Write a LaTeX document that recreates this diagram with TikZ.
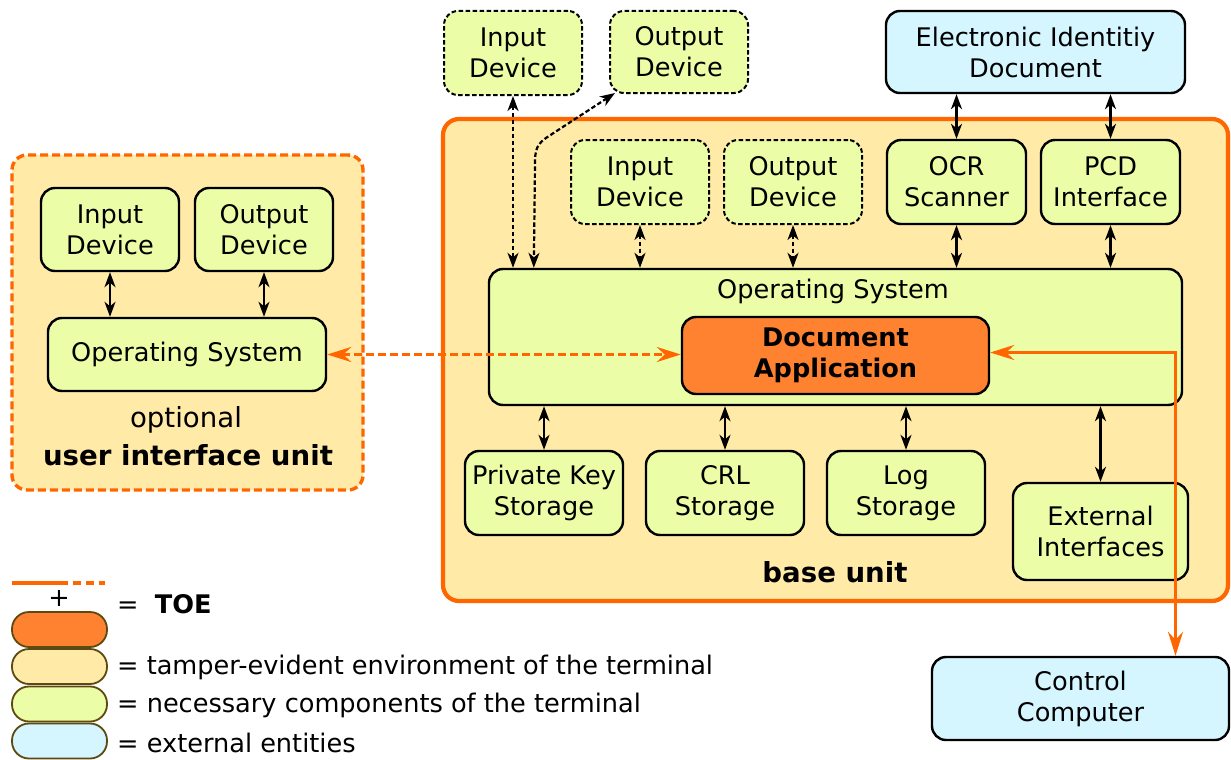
\documentclass[tikz,border=0pt]{standalone}
\usepackage{fontspec}
\setmainfont{DejaVu Sans}
\usetikzlibrary{arrows.meta,calc}
\definecolor{toeorange}{HTML}{FF6600}
\definecolor{docorange}{HTML}{FF8231}
\definecolor{tamper}{HTML}{FFEAA7}
\definecolor{needed}{HTML}{EBFDA6}
\definecolor{extblue}{HTML}{D5F5FF}
\definecolor{pillrim}{HTML}{5C4A10}
\newcommand{\txtfont}{\fontsize{25.6}{31}\selectfont}
\newcommand{\bigfont}{\fontsize{27.6}{33}\selectfont}
\tikzset{
  box/.style={draw=black, line width=2.4pt, rounded corners=14pt, align=center,
    inner sep=0pt, font=\txtfont},
  comp/.style={box, fill=needed},
  devbox/.style={comp, line width=2pt, dash pattern=on 4.5pt off 2.5pt},
  extbox/.style={box, fill=extblue},
  docbox/.style={box, fill=docorange, font=\txtfont\bfseries},
  link/.style={line width=2.2pt, {Stealth[length=15pt,width=11pt,inset=4.5pt]}-{Stealth[length=15pt,width=11pt,inset=4.5pt]}},
  dlink/.style={link, dash pattern=on 4.5pt off 2.5pt},
  toelink/.style={draw=toeorange, line width=3pt, {Stealth[length=24pt,width=15pt,inset=8pt]}-{Stealth[length=24pt,width=15pt,inset=8pt]}},
  dtoelink/.style={toelink, dash pattern=on 8pt off 4pt},
  label/.style={font=\txtfont, inner sep=0pt},
  biglabel/.style={font=\bigfont, inner sep=0pt},
  pill/.style={draw=pillrim, line width=1.8pt, rounded corners=17pt, minimum width=95pt, minimum height=35pt, inner sep=0pt}
}
\begin{document}
\begin{tikzpicture}[x=1pt,y=-1pt]
\useasboundingbox (0,0) rectangle (1231,760);

% containers
\node[draw=toeorange, line width=3.4pt, dash pattern=on 8pt off 4pt, rounded corners=15pt, fill=tamper,
      minimum width=351pt, minimum height=335pt, inner sep=0pt] (uiu) at (187.5,322.5) {};
\node[draw=toeorange, line width=4.2pt, rounded corners=16pt, fill=tamper,
      minimum width=785pt, minimum height=482pt, inner sep=0pt] (base) at (835.5,360) {};

% user interface unit
\node[comp, minimum width=138pt, minimum height=83pt] (uin) at (110,229.5) {Input\\Device};
\node[comp, minimum width=138pt, minimum height=83pt] (uout) at (264,229.5) {Output\\Device};
\node[comp, minimum width=278pt, minimum height=73pt] (uos) at (187,354.5) {Operating System};
\node[biglabel] (uoptional) at (186,420) {optional};
\node[biglabel, font=\bigfont\bfseries] (uname) at (188,455) {user interface unit};
\draw[link] (uin.south) -- (uin.south |- uos.north);
\draw[link] (uout.south) -- (uout.south |- uos.north);

% external devices above the base unit
\node[devbox, minimum width=138pt, minimum height=84pt] (xin) at (513,53) {Input\\Device};
\node[devbox, minimum width=138pt, minimum height=82pt] (xout) at (679,52) {Output\\Device};
\node[extbox, minimum width=299pt, minimum height=82pt] (eid) at (1035.5,52) {Electronic Identitiy\\Document};

% base unit
\node[devbox, minimum width=138pt, minimum height=84pt] (bin) at (640,182) {Input\\Device};
\node[devbox, minimum width=138pt, minimum height=84pt] (bout) at (793,182) {Output\\Device};
\node[comp, minimum width=139pt, minimum height=84pt] (ocr) at (956.5,182) {OCR\\Scanner};
\node[comp, minimum width=139pt, minimum height=84pt] (pcd) at (1110.5,182) {PCD\\Interface};
\node[comp, minimum width=693pt, minimum height=136pt] (bos) at (835.5,337) {};
\node[label] (boslabel) at (833,291) {Operating System};
\node[docbox, minimum width=307pt, minimum height=77pt] (doc) at (835.5,355.5) {Document\\Application};
\node[comp, minimum width=158pt, minimum height=84pt] (pks) at (544,493) {Private Key\\Storage};
\node[comp, minimum width=158pt, minimum height=84pt] (crl) at (725,493) {CRL\\Storage};
\node[comp, minimum width=158pt, minimum height=84pt] (logs) at (906,493) {Log\\Storage};
\node[comp, minimum width=175pt, minimum height=97pt] (exti) at (1100.5,531.5) {External\\Interfaces};
\node[biglabel, font=\bigfont\bfseries] (basename) at (835,572) {base unit};

\node[extbox, minimum width=297pt, minimum height=83pt] (cc) at (1080.5,698.5) {Control\\Computer};

% connections inside the base unit
\draw[dlink] (bin.south) -- (bin.south |- bos.north);
\draw[dlink] (bout.south) -- (bout.south |- bos.north);
\draw[link] (ocr.south) -- (ocr.south |- bos.north);
\draw[link] (pcd.south) -- (pcd.south |- bos.north);
\draw[link] (pks.north |- bos.south) -- (pks.north);
\draw[link] (crl.north |- bos.south) -- (crl.north);
\draw[link] (logs.north |- bos.south) -- (logs.north);
\draw[link] (exti.north |- bos.south) -- (exti.north);

% connections to the outside
\draw[link] (ocr.north |- eid.south) -- (ocr.north);
\draw[link] (pcd.north |- eid.south) -- (pcd.north);
\draw[dlink] (xin.south) -- (xin.south |- bos.north);
\coordinate (osport) at ([xshift=46pt]bos.north west);
\coordinate (outport) at ([xshift=6pt,yshift=1pt]xout.south west);
\coordinate (bendtop) at (549,136);
\coordinate (bendlow) at (535,165);
\draw[dlink] (outport) -- (bendtop)
   .. controls (536,144) and (535,150) .. (bendlow) -- (osport);

% TOE links
\draw[dtoelink] (uos.east) -- (uos.east -| doc.west);
\coordinate (ccport) at ([xshift=95pt]cc.north);
\coordinate (docport) at ([yshift=3pt]doc.east);
\draw[toelink] (docport) -- (ccport |- docport) -- (ccport);

% legend
\coordinate (lgA) at (12,583);
\coordinate (lgB) at (60,583);
\coordinate (lgC) at (105,583);
\draw[toeorange, line width=3.4pt] (lgA) -- (lgB);
\draw[toeorange, line width=3.4pt, dash pattern=on 8pt off 5pt] (lgB) -- (lgC);
\node[label] (lgplus) at (59,598) {+};
\node[label, anchor=west] (lgtoe) at (117,604) {=\ \ \textbf{TOE}};
\node[pill, fill=docorange] (p1) at (59.5,629.5) {};
\node[pill, fill=tamper] (p2) at (59.5,666.5) {};
\node[pill, fill=needed] (p3) at (59.5,704) {};
\node[pill, fill=extblue] (p4) at (59.5,741) {};
\node[label, anchor=west] (t2) at (117,667) {= tamper-evident environment of the terminal};
\node[label, anchor=west] (t3) at (117,705) {= necessary components of the terminal};
\node[label, anchor=west] (t4) at (117,743) {= external entities};
\end{tikzpicture}
\end{document}
